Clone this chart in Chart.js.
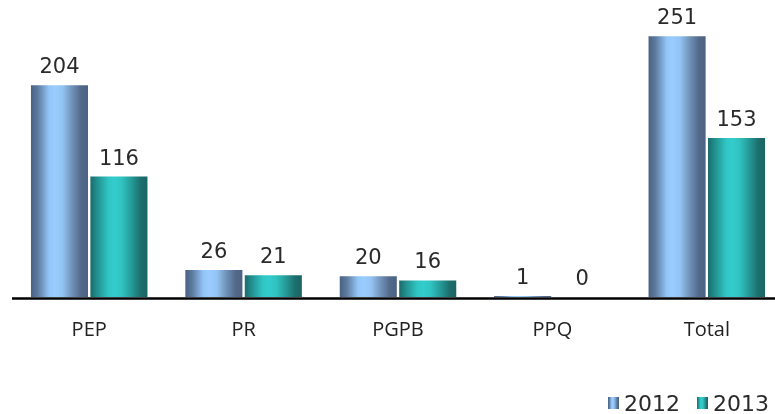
<!DOCTYPE html>
<html>
<head>
<meta charset="utf-8">
<script src="https://cdn.jsdelivr.net/npm/chart.js@4"></script>
<style>
html,body{margin:0;padding:0;background:#fff;overflow:hidden;}
#wrap{width:775px;height:414px;position:relative;overflow:hidden;}
</style>
</head>
<body>
<div id="wrap"><canvas id="c" width="784" height="414"></canvas></div>
<script>
const categories = ['PEP', 'PR', 'PGPB', 'PPQ', 'Total'];
const seriesNames = ['2012', '2013'];
const values2012 = [204, 26, 20, 1, 251];
const values2013 = [116, 21, 16, 0, 153];

const gradStops = [
  [[0, '#4a6283'], [0.12, '#5d7a9e'], [0.32, '#93c6f8'], [0.42, '#9accff'], [0.55, '#93c4f4'], [0.72, '#7092b8'], [0.88, '#52698a'], [1, '#4b6282']],
  [[0, '#1b6b6b'], [0.12, '#22908f'], [0.32, '#30c6c4'], [0.42, '#33cccc'], [0.55, '#30c3c1'], [0.72, '#259a98'], [0.88, '#1c6f6d'], [1, '#1a6564']]
];
const flatColors = ['#8ab6e6', '#2bb8b6'];

function makeGrad(ctx, x0, x1, idx) {
  const g = ctx.createLinearGradient(x0, 0, x1, 0);
  gradStops[idx].forEach(s => g.addColorStop(s[0], s[1]));
  return g;
}

const gradientPlugin = {
  id: 'gradBars',
  beforeDatasetsDraw(chart) {
    const ctx = chart.ctx;
    chart.data.datasets.forEach((ds, di) => {
      const meta = chart.getDatasetMeta(di);
      meta.data.forEach(bar => {
        const x0 = bar.x - bar.width / 2, x1 = bar.x + bar.width / 2;
        bar.options = Object.assign({}, bar.options, {backgroundColor: makeGrad(ctx, x0, x1, di)});
      });
    });
  },
  afterDatasetsDraw(chart) {
    const ctx = chart.ctx;
    const ca = chart.chartArea;
    ctx.save();
    // axis line just below the bars
    ctx.strokeStyle = '#000';
    ctx.lineWidth = 2.5;
    ctx.beginPath();
    ctx.moveTo(ca.left, ca.bottom + 1.6);
    ctx.lineTo(ca.right, ca.bottom + 1.6);
    ctx.stroke();

    ctx.font = '21px "DejaVu Sans"';
    ctx.fillStyle = '#2a2a2a';
    ctx.textAlign = 'center';
    ctx.textBaseline = 'alphabetic';
    chart.data.datasets.forEach((ds, di) => {
      const meta = chart.getDatasetMeta(di);
      meta.data.forEach((bar, i) => {
        ctx.fillText(String(ds.data[i]), bar.x, bar.y - 12);
      });
    });
    // legend
    const items = [{x: 608, label: seriesNames[0], i: 0}, {x: 697, label: seriesNames[1], i: 1}];
    ctx.textAlign = 'left';
    ctx.font = '22px "DejaVu Sans"';
    items.forEach(it => {
      ctx.fillStyle = makeGrad(ctx, it.x, it.x + 11, it.i);
      ctx.fillRect(it.x, 397, 11, 12);
      ctx.fillStyle = '#2a2a2a';
      ctx.fillText(it.label, it.x + 16, 411);
    });
    ctx.restore();
  }
};

new Chart(document.getElementById('c'), {
  type: 'bar',
  data: {
    labels: categories,
    datasets: [
      {label: seriesNames[0], data: values2012, backgroundColor: flatColors[0], borderWidth: 0},
      {label: seriesNames[1], data: values2013, backgroundColor: flatColors[1], borderWidth: 0}
    ]
  },
  options: {
    responsive: false,
    animation: false,
    devicePixelRatio: 1,
    categoryPercentage: 0.77,
    barPercentage: 0.96,
    layout: {padding: {left: 12, right: 0, top: 0, bottom: 51}},
    plugins: {legend: {display: false}, tooltip: {enabled: false}},
    scales: {
      x: {
        grid: {display: false, drawTicks: false},
        border: {display: false},
        ticks: {color: '#222', font: {family: '"Open Sans"', size: 20}, padding: 21}
      },
      y: {
        display: false,
        min: 0,
        max: 286,
        grid: {display: false}
      }
    }
  },
  plugins: [gradientPlugin]
});
</script>
</body>
</html>
